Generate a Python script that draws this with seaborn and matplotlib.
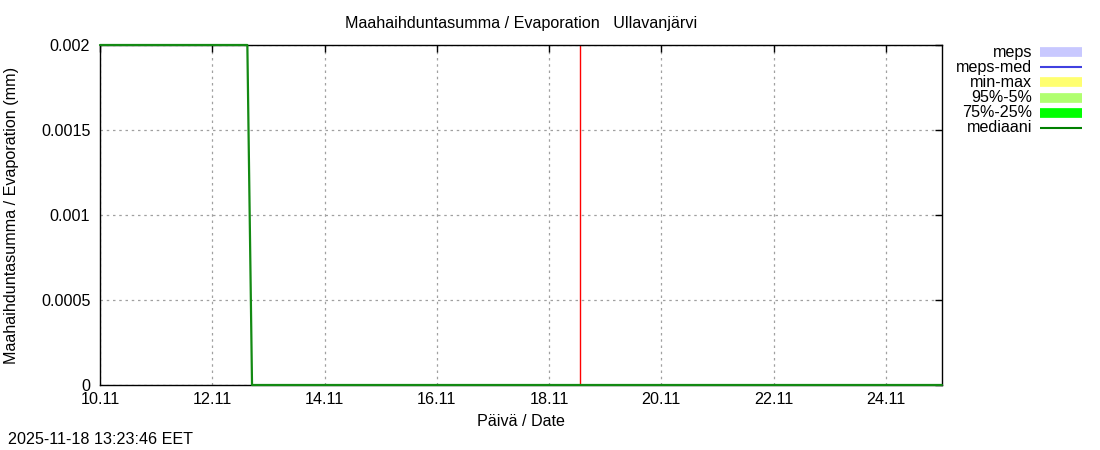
import matplotlib
matplotlib.use("Agg")
import matplotlib.pyplot as plt
import matplotlib.dates as mdates
from matplotlib.lines import Line2D
from matplotlib.ticker import FuncFormatter
import numpy as np
import pandas as pd
import seaborn as sns

# median series (mm)
med_times = ["2025-11-10 00:00", "2025-11-12 15:00", "2025-11-12 17:00", "2025-11-25 00:00"]
med_values = [0.002, 0.002, 0.0, 0.0]

# forecast start marker
now_time = "2025-11-18 13:10"

x_start = "2025-11-10 00:00"
x_end = "2025-11-25 00:00"
x_ticks = pd.date_range("2025-11-10", "2025-11-24", freq="2D")
y_ticks = [0, 0.0005, 0.001, 0.0015, 0.002]

legend_labels = ["meps", "meps-med", "min-max", "95%-5%", "75%-25%", "mediaani"]
legend_colors = ["#c8c8ff", "#4040e0", "#ffff70", "#b0ff70", "#00ff00", "#008000"]
legend_widths = [7, 1.5, 7, 7, 7, 1.5]

title = "Maahaihduntasumma / Evaporation   Ullavanjärvi"
stamp = "2025-11-18 13:23:46 EET"

sns.set_style("white")
plt.rcParams["font.family"] = ["Liberation Sans", "DejaVu Sans"]
plt.rcParams["text.color"] = "black"
plt.rcParams["axes.labelcolor"] = "black"
fs = 11.6

df = pd.DataFrame({"time": pd.to_datetime(med_times), "value": med_values})

fig = plt.figure(figsize=(11, 4.5), dpi=100)
ax = fig.add_axes([100 / 1100, 1 - 385 / 450, 842 / 1100, 340 / 450])

sns.lineplot(data=df, x="time", y="value", ax=ax, color="#138a13", lw=1.6)
for ln in ax.lines:
    ln.set_clip_on(False)
    ln.set_zorder(5)
ax.axvline(pd.Timestamp(now_time), color="red", lw=1)

ax.set_xlim(pd.Timestamp(x_start), pd.Timestamp(x_end))
ax.set_ylim(0, 0.002)
ax.set_xticks(x_ticks)
ax.xaxis.set_major_formatter(mdates.DateFormatter("%d.%m"))
ax.set_yticks(y_ticks)
ax.yaxis.set_major_formatter(FuncFormatter(lambda v, p: "%g" % v))
ax.tick_params(direction="in", top=True, right=True, length=5, width=1,
               color="black", labelcolor="black", labelsize=fs)
ax.tick_params(axis="x", pad=5)
ax.tick_params(axis="y", pad=7)
ax.grid(True, color="#a0a0a0", ls=(0, (2, 3)), lw=0.9)
for s in ax.spines.values():
    s.set_color("black")
    s.set_linewidth(1)

ax.set_xlabel("Päivä / Date", fontsize=fs, labelpad=5)
ax.set_ylabel("Maahaihduntasumma / Evaporation (mm)", fontsize=fs)
ax.yaxis.set_label_coords(-0.0962, 0.5)
ax.set_title(title, fontsize=fs, pad=12)

# gnuplot style key at the right
for i, (lab, col, w) in enumerate(zip(legend_labels, legend_colors, legend_widths)):
    yy = 1 - (52 + i * 15.2) / 450
    fig.text(1032 / 1100, yy, lab, ha="right", va="center", fontsize=fs)
    fig.add_artist(Line2D([1040 / 1100, 1082 / 1100], [yy, yy], color=col, lw=w,
                          transform=fig.transFigure, solid_capstyle="butt"))

fig.text(8 / 1100, 1 - 440 / 450, stamp, ha="left", va="center", fontsize=fs)

fig.savefig("out.png", dpi=100)
